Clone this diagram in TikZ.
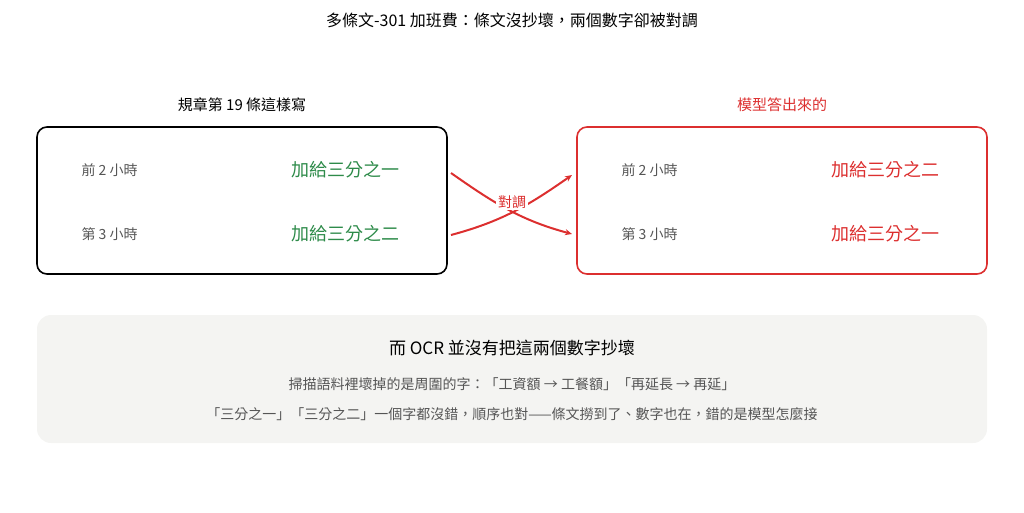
\documentclass[tikz,border=0pt]{standalone}
\usepackage{fontspec}
\setmainfont{Noto Sans CJK TC}
\usetikzlibrary{arrows.meta}
\definecolor{grn}{HTML}{2E8B4A}
\definecolor{rd}{HTML}{DC2F2F}
\definecolor{gy}{HTML}{555555}
\definecolor{bg}{HTML}{F4F4F2}
\begin{document}
\begin{tikzpicture}[x=1pt,y=-1pt,
  box/.style={rounded corners=10pt,line width=1.6pt},
  lab/.style={anchor=west,text=gy,font=\fontsize{14}{16}\selectfont},
  val/.style={anchor=east,font=\fontsize{18}{20}\selectfont},
  arr/.style={rd,line width=2pt,-{Stealth[length=7pt,width=6pt]}}]
\useasboundingbox (0,0) rectangle (1024,512);
\node (title) at (512,20) {\fontsize{16}{18}\selectfont 多條文-301 加班費：條文沒抄壞，兩個數字卻被對調};
\node (hl) at (242,105) {\fontsize{15}{17}\selectfont 規章第 19 條這樣寫};
\node[text=rd] (hr) at (782,105) {\fontsize{15}{17}\selectfont 模型答出來的};
\draw[box] (37,127) rectangle (447,274);
\draw[box,rd] (577,127) rectangle (987,274);
\coordinate (l1) at (451,173); \coordinate (l2) at (451,235);
\coordinate (r1) at (572,175); \coordinate (r2) at (572,234);
\node[lab] (a1) at (78,170) {前 2 小時};
\node[lab] (a2) at (78,234) {第 3 小時};
\node[val,text=grn] (v1) at (403,170) {加給三分之一};
\node[val,text=grn] (v2) at (403,234) {加給三分之二};
\node[lab] (b1) at (618,170) {前 2 小時};
\node[lab] (b2) at (618,234) {第 3 小時};
\node[val,text=rd] (w1) at (943,170) {加給三分之二};
\node[val,text=rd] (w2) at (943,234) {加給三分之一};
\draw[arr] (l1) to[out=-35,in=165] (r2);
\draw[arr] (l2) to[out=15,in=215] (r1);
\node[fill=white,text=rd,inner sep=2pt] (sw) at (512,202) {\fontsize{14}{16}\selectfont 對調};
\fill[bg,rounded corners=14pt] (37,315) rectangle (987,443);
\node (bt) at (512,348) {\fontsize{17}{19}\selectfont 而 OCR 並沒有把這兩個數字抄壞};
\node[text=gy] (bl1) at (512,384) {\fontsize{14}{16}\selectfont 掃描語料裡壞掉的是周圍的字：「工資額 → 工餐額」「再延長 → 再延」};
\node[text=gy] (bl2) at (512,414) {\fontsize{14}{16}\selectfont 「三分之一」「三分之二」一個字都沒錯，順序也對——條文撈到了、數字也在，錯的是模型怎麼接};
\end{tikzpicture}
\end{document}
